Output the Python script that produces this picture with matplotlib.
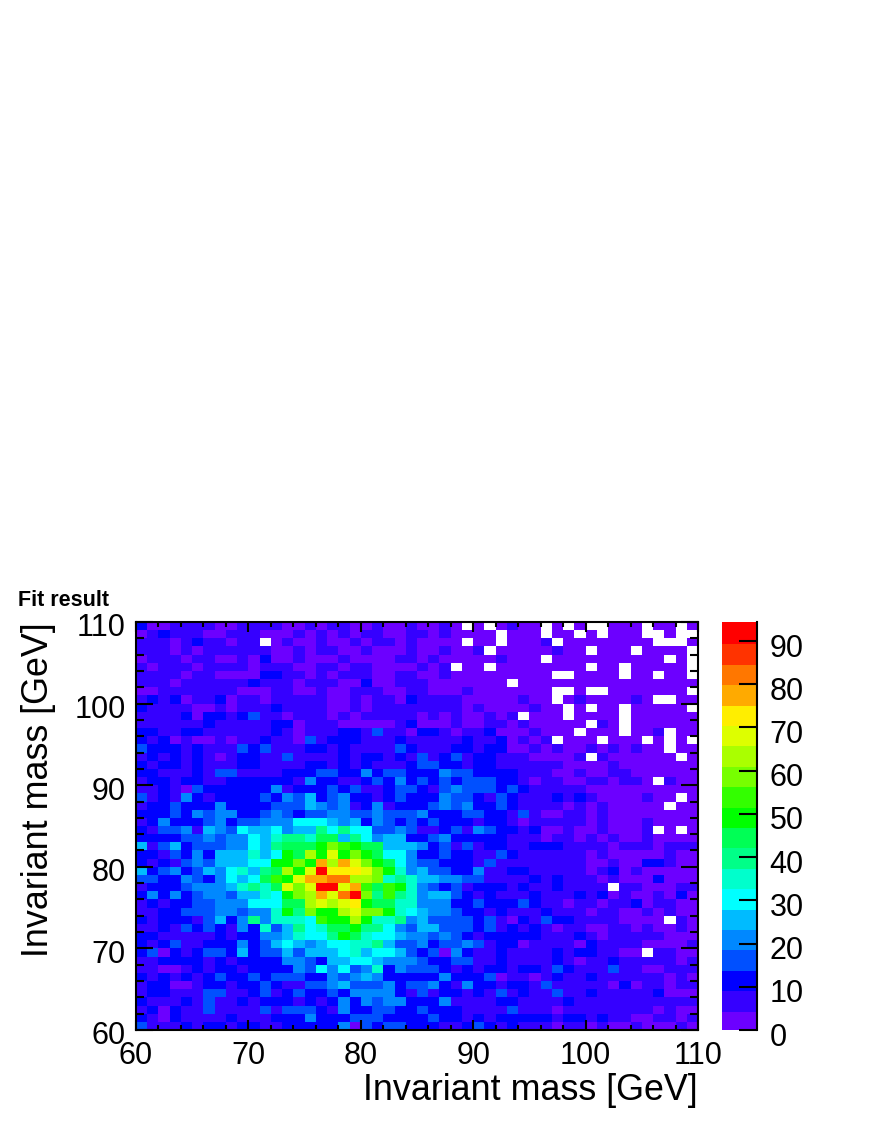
import numpy as np
import matplotlib
matplotlib.use("Agg")
import matplotlib.pyplot as plt
from matplotlib.colors import ListedColormap, BoundaryNorm
from matplotlib.transforms import ScaledTranslation

plt.rcParams['font.family'] = ['Liberation Sans', 'DejaVu Sans']

# Bin counts, top row (110 GeV) first. 0 = empty bin (white)
counts = [
    [12,2,2,7,7,7,7,2,2,7,7,7,7,2,2,7,2,7,7,2,2,7,2,2,7, 2,2,7,2,0,2,0,2,7,2,2,0,2,0,2,0,0,2,2,2,0,2,2,0,2],
    [2,7,12,7,7,7,2,2,7,7,7,2,2,2,7,2,7,2,7,2,7,7,2,2,7, 7,2,7,2,2,2,2,0,2,2,2,0,2,2,0,2,0,2,2,2,0,0,2,0,0],
    [7,7,7,2,7,12,7,7,2,7,7,0,2,7,2,2,7,2,2,7,2,7,7,2,7, 2,2,2,2,0,2,2,0,2,2,2,7,0,2,2,2,2,2,2,2,2,0,0,0,2],
    [7,7,7,2,7,2,7,7,7,7,7,7,2,2,7,2,7,7,2,2,7,2,2,2,7, 2,2,7,2,2,7,0,2,2,2,2,2,7,2,2,0,2,2,2,0,2,2,2,2,0],
    [2,7,7,7,2,7,7,2,2,7,2,12,2,2,7,2,2,2,7,2,2,2,2,7,7, 2,7,2,2,2,2,2,7,2,2,2,0,2,2,2,2,2,2,2,2,2,2,0,2,0],
    [7,2,7,7,7,2,7,7,7,7,2,7,7,7,2,2,7,7,2,7,7,2,2,2,2, 7,2,7,0,2,2,0,2,2,2,2,2,2,2,2,0,2,2,0,2,2,2,2,2,0],
    [7,7,7,7,2,7,7,2,2,2,2,12,12,7,7,2,7,2,7,7,7,2,2,7,7, 2,2,7,2,2,2,2,2,2,2,2,2,0,0,2,2,2,2,0,2,2,0,2,2,0],
    [7,7,7,2,7,7,7,7,7,7,12,7,7,7,2,7,7,7,2,2,12,2,2,7,7, 7,2,2,2,2,2,2,2,0,2,2,2,2,2,2,2,2,2,2,2,2,2,2,2,2],
    [2,2,7,7,7,7,7,7,7,2,2,2,7,7,2,2,7,2,2,7,7,7,2,2,7, 7,2,2,2,7,2,2,2,2,2,2,2,0,0,2,0,0,2,2,2,2,2,2,2,0],
    [7,12,7,12,2,7,7,12,2,7,7,2,7,7,7,7,7,2,2,7,2,7,7,2,12, 7,7,7,7,2,2,2,2,2,7,2,2,0,2,7,2,2,2,2,7,2,0,0,2,2],
    [12,7,7,7,7,2,2,7,2,7,7,7,12,7,7,7,7,2,2,7,2,7,7,7,7, 7,7,7,7,2,7,2,2,2,2,7,2,2,0,2,0,2,2,0,2,2,2,2,2,0],
    [7,7,7,7,12,2,12,12,7,12,17,7,7,2,7,7,7,2,7,2,7,7,7,7,7, 2,7,2,7,2,2,7,2,7,0,2,2,2,0,2,2,2,2,0,2,2,2,2,2,2],
    [7,7,7,7,7,7,12,7,7,7,7,7,12,12,2,7,7,7,2,2,2,2,2,7,12, 2,2,2,7,2,2,7,7,2,7,2,2,2,2,2,0,7,2,0,2,2,2,2,2,2],
    [12,12,7,7,12,12,7,7,7,7,7,7,12,7,2,7,7,7,12,12,7,17,7,7,2, 12,12,7,2,7,7,12,2,2,2,7,2,2,2,0,2,2,2,0,2,2,7,0,2,2],
    [12,7,12,2,7,2,2,7,2,7,7,12,7,7,2,17,7,12,12,12,7,7,7,12,7, 7,7,7,7,12,7,7,12,2,7,2,7,0,2,2,2,0,2,2,2,0,2,0,2,0],
    [17,12,12,12,7,12,7,7,7,17,12,17,7,7,7,12,12,7,12,7,7,7,7,17,12, 7,7,7,12,12,7,12,12,2,2,7,2,7,2,2,7,2,7,2,7,2,2,0,2,2],
    [7,12,7,12,7,12,7,2,7,12,12,7,7,17,7,7,7,7,12,7,12,12,7,12,7, 17,7,12,17,7,12,12,7,7,7,2,2,2,2,7,0,7,2,2,2,2,2,2,0,2],
    [12,7,12,12,7,12,7,7,7,12,12,7,7,7,7,12,12,7,12,7,12,7,7,7,12, 17,17,12,12,7,12,12,7,7,7,7,7,7,2,2,2,2,7,2,2,2,2,2,2,2],
    [12,12,7,7,7,12,7,17,17,7,7,7,7,12,12,12,17,17,12,12,21,12,17,17,12, 12,12,21,17,17,12,12,12,12,7,7,7,2,2,7,2,2,7,7,2,2,2,2,2,2],
    [7,12,12,7,12,12,7,7,12,12,12,12,12,12,7,21,12,12,7,7,12,17,12,21,12, 17,12,17,12,17,17,17,12,12,7,2,7,7,2,2,7,7,2,7,7,2,0,7,2,2],
    [7,7,12,7,2,17,12,12,12,12,12,12,21,7,12,12,12,17,12,17,7,7,12,17,17, 12,7,17,21,17,17,17,12,17,12,7,7,7,7,7,2,2,2,2,2,2,2,2,2,2],
    [17,7,12,7,21,12,7,12,12,12,12,17,12,21,17,26,12,17,21,12,12,7,12,17,12, 12,12,21,17,17,12,7,17,12,7,7,7,12,7,12,7,2,2,2,2,7,2,2,0,2],
    [7,12,12,17,12,12,12,21,12,12,12,12,17,17,17,26,21,17,21,7,12,21,7,12,12, 12,17,21,17,21,12,12,17,12,7,7,7,7,2,7,2,7,2,2,2,2,2,0,2,2],
    [12,12,12,17,12,21,17,21,21,12,12,17,21,17,12,17,17,21,21,17,17,21,17,17,17, 21,12,12,12,17,17,12,12,7,17,7,2,2,7,7,2,7,2,2,2,2,2,2,2,2],
    [7,12,21,12,12,12,17,21,12,17,17,21,21,21,31,31,31,26,21,26,12,21,17,12,17, 12,17,12,12,12,7,12,12,7,2,7,7,7,7,7,2,7,2,2,2,7,2,2,2,2],
    [12,7,17,17,21,7,26,21,17,31,26,26,31,21,26,26,40,31,40,31,31,17,17,21,17, 7,7,12,17,7,21,17,12,12,7,12,2,2,7,2,2,7,2,2,2,7,0,2,0,2],
    [12,12,12,12,17,17,21,17,21,21,31,26,36,40,40,36,45,45,26,40,31,21,26,26,12, 12,17,21,12,12,12,12,12,7,7,7,2,7,7,2,7,2,7,2,2,7,2,2,2,2],
    [26,7,17,26,12,17,17,17,21,21,31,26,40,45,45,45,50,59,55,50,45,45,26,26,26, 21,12,17,7,17,7,12,12,7,7,12,12,12,7,7,7,7,2,7,7,7,2,7,7,7],
    [12,12,7,17,12,21,12,26,26,26,36,26,31,50,45,64,50,69,50,59,50,45,31,31,21, 12,12,17,12,12,7,7,17,12,7,7,7,7,7,7,2,7,2,2,2,2,2,7,2,2],
    [12,7,12,7,17,21,17,26,26,26,31,31,50,50,59,50,79,64,79,69,59,50,45,31,21, 17,17,12,12,12,7,17,7,7,7,7,7,7,7,7,2,2,7,2,2,12,12,7,2,2],
    [26,12,17,21,12,17,26,21,31,36,26,40,45,64,50,69,93,74,74,74,69,59,50,36,21, 26,17,17,12,12,21,7,7,12,12,7,7,7,7,7,2,7,12,2,7,2,2,2,2,2],
    [17,17,12,12,21,17,12,21,31,26,31,45,55,50,69,79,79,83,83,64,64,59,36,40,36, 26,26,21,21,17,17,7,7,7,7,12,7,12,7,7,7,2,7,2,2,2,12,2,2,2],
    [7,12,12,12,17,21,21,21,26,36,40,36,45,69,59,69,93,93,69,79,55,45,55,50,36, 21,17,12,17,7,12,12,12,7,12,7,7,12,7,7,7,7,0,7,7,2,2,2,7,7],
    [12,21,12,21,12,17,21,21,17,26,26,36,31,50,59,64,79,69,83,93,59,40,55,40,36, 21,26,26,17,12,7,12,7,7,7,12,7,7,7,12,7,12,2,7,2,2,7,2,12,2],
    [7,12,7,12,12,17,17,21,21,21,31,31,31,45,45,64,69,64,69,74,50,45,45,36,36, 21,21,21,12,12,17,12,12,12,17,12,7,7,2,7,7,2,7,7,12,2,7,7,2,2],
    [7,7,12,12,17,17,17,21,21,17,21,21,36,50,40,59,50,50,64,69,59,59,50,36,31, 26,21,21,17,12,12,7,12,7,7,7,12,7,7,7,2,7,7,2,2,7,2,7,2,2],
    [12,7,12,12,12,7,17,26,12,21,40,21,36,36,36,31,55,50,50,64,50,36,36,40,21, 26,17,17,17,17,12,17,7,2,12,7,17,12,12,7,7,7,7,2,2,2,2,0,7,2],
    [7,7,12,7,17,12,17,12,7,21,12,36,17,26,40,31,36,45,45,50,40,40,31,21,17, 26,26,17,17,17,12,17,7,12,7,12,7,2,7,7,2,2,7,7,2,7,2,2,7,2],
    [12,12,7,7,7,7,7,12,7,12,12,21,21,26,36,31,31,40,50,45,36,31,31,26,21, 21,17,21,17,12,7,12,12,12,12,12,7,7,7,12,7,2,7,7,7,7,7,2,2,2],
    [12,7,12,17,7,7,12,12,12,21,12,17,26,31,26,21,26,31,31,36,36,40,26,17,17, 21,12,17,17,21,17,7,12,12,2,7,7,7,7,2,12,7,7,7,7,2,2,2,2,7],
    [12,17,2,12,7,12,17,17,12,26,12,17,17,26,17,26,26,26,31,36,26,31,31,26,17, 12,17,2,21,12,7,7,12,7,7,7,7,12,7,12,12,7,7,2,2,0,7,7,2,2],
    [7,7,12,12,12,12,7,12,7,12,12,12,12,21,21,17,12,26,26,31,31,26,21,21,21, 17,12,12,17,17,7,7,12,7,7,7,7,12,7,2,7,7,12,7,7,7,7,7,2,7],
    [7,7,2,2,7,12,7,12,12,7,12,12,12,12,21,17,31,21,31,17,21,36,12,21,17, 17,17,12,7,12,7,12,12,7,12,12,7,17,12,7,7,7,17,7,7,2,2,7,7,7],
    [12,7,12,7,12,7,12,17,12,12,17,12,17,17,17,12,12,21,17,21,26,21,12,12,12, 12,12,21,12,12,12,17,2,7,7,2,7,12,7,7,12,7,7,7,7,7,7,2,7,2],
    [7,12,12,2,2,7,12,12,7,12,12,17,12,7,7,17,17,21,26,17,17,17,21,12,17, 17,21,12,7,21,12,12,7,12,12,7,17,7,7,7,7,7,2,12,2,7,7,2,7,7],
    [7,12,12,7,7,7,17,17,7,7,12,17,7,12,17,12,12,17,12,21,21,21,21,12,7, 17,7,12,12,7,12,7,17,7,12,7,7,17,7,7,12,7,7,7,7,7,12,2,2,2],
    [12,7,7,7,12,7,17,7,7,12,7,12,12,12,7,12,7,12,21,12,21,17,21,21,12, 12,12,21,7,7,7,7,12,12,7,7,7,7,12,7,7,7,7,7,7,7,7,7,7,7],
    [7,12,2,12,7,7,17,7,7,7,7,17,7,17,17,17,12,7,21,12,12,17,17,12,12, 17,12,12,12,7,7,7,7,17,7,7,7,2,7,7,7,7,7,7,7,7,2,7,2,2],
    [12,7,2,12,7,7,7,7,12,7,7,7,12,12,12,21,12,12,12,17,17,17,12,12,12, 12,17,12,12,7,12,7,12,12,12,12,12,7,12,12,7,12,7,7,2,2,7,7,2,7],
    [17,7,7,7,12,7,12,12,7,12,12,7,7,12,12,12,12,12,21,2,17,12,17,17,12, 12,12,7,7,12,17,12,7,12,7,7,7,2,7,7,2,7,2,2,7,2,2,2,7,2],
]

# ROOT rainbow palette, one colour per contour level (bottom to top of the bar)
palette = ['#6c00ff', '#3500ff', '#0000ff', '#0050ff', '#0088ff', '#00bbff', '#00ffff',
           '#00ffcc', '#00ff88', '#00ff55', '#00ff00', '#33ff00', '#77ff00', '#aaff00',
           '#ddff00', '#ffee00', '#ffaa00', '#ff7700', '#ff3300', '#ff0000']
z_max = 94.4
x_ticks = [60, 70, 80, 90, 100, 110]
y_ticks = [60, 70, 80, 90, 100, 110]
z_ticks = [0, 10, 20, 30, 40, 50, 60, 70, 80, 90]

W, H = 872, 1128
fig = plt.figure(figsize=(W / 100, H / 100), dpi=100)

def box(x0, y0, x1, y1):
    # pixel box in the picture -> figure fractions
    return [x0 / W, 1 - y1 / H, (x1 - x0) / W, (y1 - y0) / H]

ax = fig.add_axes(box(136, 622, 698, 1030))
cax = fig.add_axes(box(722, 622, 757, 1030))

z = np.ma.masked_equal(np.array(counts, dtype=float)[::-1], 0)
edges = np.linspace(60, 110, 51)
levels = np.linspace(0, z_max, len(palette) + 1)
cmap = ListedColormap(palette)
cmap.set_bad('white')
norm = BoundaryNorm(levels, cmap.N)

mesh = ax.pcolormesh(edges, edges, z, cmap=cmap, norm=norm, antialiased=True, linewidth=0)

ax.set_xlim(60, 110)
ax.set_ylim(60, 110)
ax.set_xticks(x_ticks)
ax.set_yticks(y_ticks)
ax.set_xticks(np.arange(60, 111, 2), minor=True)
ax.set_yticks(np.arange(60, 111, 2), minor=True)
ax.tick_params(axis='x', which='major', direction='in', top=True, length=7.5, width=1.5, labelsize=22, pad=8)
ax.tick_params(axis='x', which='minor', direction='in', top=True, length=3.5, width=1.5)
ax.tick_params(axis='y', which='major', direction='in', right=True, length=12, width=1.5, labelsize=22, pad=7.5)
ax.tick_params(axis='y', which='minor', direction='in', right=True, length=6, width=1.5)
for s in ax.spines.values():
    s.set_linewidth(1.5)

# ROOT puts the y labels a little under their tick
shift = ScaledTranslation(0, -3 / 100, fig.dpi_scale_trans)
for lab in ax.get_yticklabels():
    lab.set_transform(lab.get_transform() + shift)

fig.text(698 / W, 1 - 1090 / H, 'Invariant mass [GeV]', fontsize=25.8, ha='right', va='center')
fig.text(39 / W, 1 - 622 / H, 'Invariant mass [GeV]', fontsize=25.8, rotation=90, ha='center', va='top')
fig.text(18 / W, 1 - 600 / H, 'Fit result', fontsize=15.5, fontweight='bold', ha='left', va='center')

cb = fig.colorbar(mesh, cax=cax, ticks=z_ticks, spacing='proportional')
cb.outline.set_visible(False)
cb.solids.set_edgecolor('face')
cax.spines['right'].set_visible(True)
cax.spines['right'].set_linewidth(1.5)
cax.minorticks_off()
cax.tick_params(axis='y', which='major', direction='in', right=True, left=False, length=13, width=1.5, labelsize=22, pad=9)
cax.set_yticklabels([str(t) for t in z_ticks])
shift2 = ScaledTranslation(0, -4 / 100, fig.dpi_scale_trans)
for lab in cax.get_yticklabels():
    lab.set_transform(lab.get_transform() + shift2)

fig.savefig('out.png', dpi=100)
